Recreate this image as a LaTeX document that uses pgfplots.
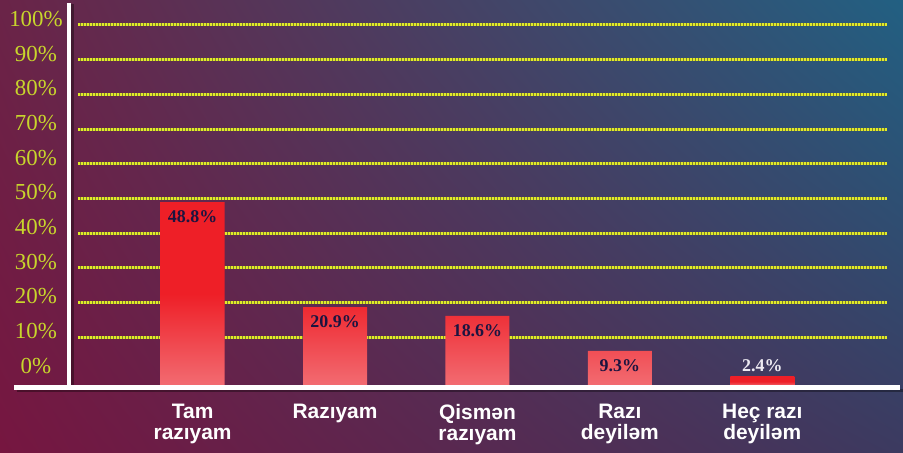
\documentclass[border=0pt]{standalone}
\usepackage{pgfplots}
\pgfplotsset{compat=1.18}
\usepackage{fontspec}
\setmainfont{Liberation Serif}
\newfontfamily\lsans{Liberation Sans}
\definecolor{tickyel}{HTML}{C8D62C}
\definecolor{gridyel}{HTML}{E2EC28}
\definecolor{gridolive}{HTML}{7E8030}
\definecolor{barred}{HTML}{EE1F27}
\definecolor{barpink}{HTML}{F26C72}
\definecolor{valnavy}{HTML}{1C1440}
\definecolor{vallight}{HTML}{EDEAF2}
\pgfdeclarefunctionalshading{bg}{\pgfpointorigin}{\pgfpoint{903bp}{453bp}}{}{
453 div exch 903 div exch
2 copy mul
2 index -0.228 mul
2 index -0.047 mul add
1 index -0.055 mul add
0.463 add
3 index 0.141 mul
3 index 0.055 mul add
2 index 0.094 mul add
0.086 add
4 index 0.125 mul
4 index 0.031 mul add
3 index 0.103 mul add
0.251 add
6 3 roll pop pop pop
}
\begin{document}
\begin{tikzpicture}[x=1bp,y=1bp]
\node[inner sep=0pt, outer sep=0pt, anchor=south west] at (0,0) {\pgfuseshading{bg}};
% grid / percentage scale
\begin{axis}[
  at={(78bp,81.3bp)}, anchor=south west, scale only axis,
  width=809bp, height=346.7bp,
  xmin=0, xmax=1, ymin=0, ymax=100,
  axis line style={draw=none}, tick style={draw=none},
  xtick=\empty,
  ytick={10,20,...,100},
  extra y ticks={0}, extra y tick style={grid=none},
  ymajorgrids,
  major grid style={line width=3bp, draw=gridyel, dash pattern=on 2bp off 1bp,
    preaction={draw=gridolive, solid, line width=3bp}},
  /pgf/number format/assume math mode=true,
  yticklabel={\pgfmathprintnumber{\tick}\%},
  yticklabel style={anchor=center, inner sep=0pt, xshift=-42bp, yshift=6bp,
    font=\fontsize{23}{23}\selectfont, text=tickyel},
]
\end{axis}
% bars
\begin{axis}[
  at={(69bp,67bp)}, anchor=south west, scale only axis,
  width=821bp, height=381bp,
  xmin=-0.868, xmax=4.897, ymin=0, ymax=101.06,
  axis line style={draw=none}, tick style={draw=none},
  ytick=\empty,
  xtick={0,1,2,3,4},
  xticklabels={{Tam\\razıyam},{Razıyam},{Qismən\\razıyam},{Razı\\deyiləm},{Heç razı\\deyiləm}},
  xticklabel style={anchor=north, inner sep=0pt, yshift=-18bp, align=center,
    font=\lsans\bfseries\fontsize{21}{21}\selectfont, text=white},
  /pgf/number format/assume math mode=true,
  clip=false,
]
\addplot[ybar, bar width=64bp, bar shift=0pt, draw=none,
  top color=barred, bottom color=barpink, middle color=barred,
  nodes near coords={\pgfmathprintnumber[fixed,precision=1,fixed zerofill]{\pgfplotspointmeta}\%},
  nodes near coords style={anchor=north, inner sep=0pt, yshift=-8bp,
    font=\bfseries\fontsize{18}{18}\selectfont, text=valnavy}]
  coordinates {(0,48.8) (1,20.9) (2,18.6) (3,9.3)};
\addplot[ybar, bar width=64bp, bar shift=0pt, draw=none,
  top color=barred, bottom color=barpink, middle color=barred,
  nodes near coords={\pgfmathprintnumber[fixed,precision=1,fixed zerofill]{\pgfplotspointmeta}\%},
  nodes near coords style={anchor=south, inner sep=0pt, yshift=5bp,
    font=\bfseries\fontsize{18}{18}\selectfont, text=vallight}]
  coordinates {(4,2.4)};
\end{axis}
% axis lines with soft shadow
\fill[black, opacity=0.35] (17bp,60.5bp) rectangle (903bp,64bp);
\fill[black, opacity=0.35] (71bp,64bp) rectangle (74bp,449bp);
\fill[white] (14bp,63.3bp) rectangle (900bp,67.8bp);
\fill[white] (66.8bp,65bp) rectangle (71bp,450bp);
\pgfresetboundingbox
\path (0,0) rectangle (903bp,453bp);
\end{tikzpicture}
\end{document}
